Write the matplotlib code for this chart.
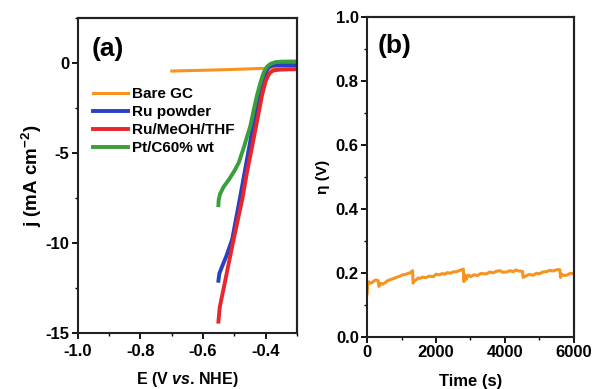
import numpy as np
import matplotlib
matplotlib.use("Agg")
import matplotlib.pyplot as plt
from matplotlib.ticker import MultipleLocator

plt.rcParams["font.family"] = ["Liberation Sans", "DejaVu Sans"]
plt.rcParams["font.weight"] = "bold"
plt.rcParams["mathtext.fontset"] = "custom"
plt.rcParams["mathtext.rm"] = "Liberation Sans:bold"
plt.rcParams["mathtext.it"] = "Liberation Sans:italic:bold"

# (a) polarization curves
bare_E = [-0.70, -0.60, -0.50, -0.40, -0.30]
bare_j = [-0.45, -0.41, -0.36, -0.30, -0.25]

ru_E = [-0.551, -0.548, -0.539, -0.525, -0.507, -0.48, -0.454, -0.435, -0.417, -0.405, -0.397, -0.39, -0.38, -0.36, -0.33, -0.30]
ru_j = [-12.1, -11.7, -11.3, -10.7, -9.8, -7.3, -4.8, -3.0, -1.6, -0.8, -0.45, -0.24, -0.15, -0.12, -0.12, -0.12]

ruth_E = [-0.551, -0.547, -0.540, -0.533, -0.52, -0.507, -0.49, -0.475, -0.46, -0.443, -0.425, -0.412, -0.40, -0.392, -0.385, -0.375, -0.36, -0.33, -0.30]
ruth_j = [-14.37, -13.6, -13.0, -12.42, -11.3, -10.19, -8.8, -7.59, -6.1, -4.61, -3.0, -1.82, -1.0, -0.7, -0.52, -0.42, -0.38, -0.36, -0.35]

pt_E = [-0.551, -0.550, -0.546, -0.535, -0.517, -0.50, -0.486, -0.47, -0.449, -0.438, -0.428, -0.416, -0.406, -0.395, -0.385, -0.37, -0.35, -0.30]
pt_j = [-7.9, -7.6, -7.3, -6.9, -6.47, -6.0, -5.54, -4.7, -3.5, -2.6, -1.82, -1.05, -0.52, -0.2, -0.06, 0.04, 0.07, 0.08]

# (b) chronopotentiometry
t_s = [0, 20, 50, 100, 150, 200, 250, 320, 345, 400, 460, 530, 600, 700, 780, 850, 957, 1030, 1100, 1180, 1246,
       1320, 1335, 1380, 1420, 1480, 1536, 1620, 1700, 1800, 1923, 2000, 2100, 2180, 2250, 2330, 2406, 2500,
       2600, 2700, 2793, 2810, 2830, 2850, 2880, 2920, 2950, 3000, 3100, 3200, 3300, 3469, 3560, 3650, 3750,
       3855, 3950, 4050, 4150, 4242, 4320, 4400, 4510, 4530, 4600, 4700, 4826, 4920, 5000, 5100, 5209, 5300,
       5400, 5500, 5594, 5615, 5640, 5720, 5800, 5900, 6000]
eta = [0.135, 0.165, 0.172, 0.168, 0.170, 0.175, 0.178, 0.176, 0.158, 0.167, 0.165, 0.170, 0.176, 0.180, 0.183,
       0.186, 0.190, 0.194, 0.195, 0.198, 0.200, 0.207, 0.168, 0.176, 0.178, 0.184, 0.183, 0.187, 0.185, 0.190,
       0.188, 0.196, 0.194, 0.198, 0.196, 0.201, 0.199, 0.203, 0.204, 0.208, 0.212, 0.173, 0.195, 0.184, 0.180,
       0.192, 0.193, 0.188, 0.194, 0.192, 0.198, 0.197, 0.203, 0.200, 0.205, 0.207, 0.202, 0.203, 0.207, 0.204,
       0.209, 0.206, 0.205, 0.186, 0.190, 0.195, 0.193, 0.199, 0.197, 0.203, 0.204, 0.208, 0.206, 0.210, 0.210,
       0.186, 0.196, 0.192, 0.193, 0.199, 0.197]

orange = "#f7931e"
blue = "#2b3fc4"
red = "#e8262b"
green = "#3a9e3a"
frame = "#222222"

fig = plt.figure(figsize=(5.94, 3.89), dpi=100)
ax1 = fig.add_axes([0.131, 0.144, 0.369, 0.810])
ax2 = fig.add_axes([0.618, 0.134, 0.348, 0.822])

ax1.plot(bare_E, bare_j, color=orange, lw=2.2, label="Bare GC")
ax1.plot(ru_E, ru_j, color=blue, lw=2.8, label="Ru powder")
ax1.plot(ruth_E, ruth_j, color=red, lw=2.8, label="Ru/MeOH/THF")
ax1.plot(pt_E, pt_j, color=green, lw=2.8, label="Pt/C60% wt")
ax1.set_xlim(-1.0, -0.3)
ax1.set_ylim(-15, 2.5)
ax1.xaxis.set_minor_locator(MultipleLocator(0.1))
ax1.yaxis.set_minor_locator(MultipleLocator(2.5))
ax1.set_xticks([-1.0, -0.8, -0.6, -0.4])
ax1.set_xticklabels(["-1.0", "-0.8", "-0.6", "-0.4"])
ax1.set_yticks([0, -5, -10, -15])
ax1.set_yticklabels(["0", "-5", "-10", "-15"])
ax1.set_xlabel(r"E (V $\mathit{vs}$. NHE)", fontsize=11.5, fontweight="bold", labelpad=8)
ax1.set_ylabel(r"j (mA cm$^{-2}$)", fontsize=13.5, fontweight="bold", labelpad=1)
ax1.text(0.065, 0.90, "(a)", transform=ax1.transAxes, fontsize=19, fontweight="bold", va="center")
leg = ax1.legend(loc="upper left", bbox_to_anchor=(0.04, 0.80), frameon=False, fontsize=11,
                 handlelength=2.3, handletextpad=0.3, labelspacing=0.26, borderaxespad=0)

ax2.plot(t_s, eta, color=orange, lw=2.2)
ax2.set_xlim(0, 6000)
ax2.set_ylim(0, 1.0)
ax2.xaxis.set_major_locator(MultipleLocator(2000))
ax2.xaxis.set_minor_locator(MultipleLocator(1000))
ax2.yaxis.set_major_locator(MultipleLocator(0.2))
ax2.yaxis.set_minor_locator(MultipleLocator(0.1))
ax2.set_xlabel("Time (s)", fontsize=12, fontweight="bold", labelpad=10)
ax2.set_ylabel("η (V)", fontsize=11, fontweight="bold", labelpad=4)
ax2.text(0.05, 0.91, "(b)", transform=ax2.transAxes, fontsize=19, fontweight="bold", va="center")

for ax in (ax1, ax2):
    for s in ax.spines.values():
        s.set_visible(True)
        s.set_linewidth(1.5)
        s.set_color(frame)
    # top and right edges of the box, drawn at the axis limits
    ax.axhline(ax.get_ylim()[1], color=frame, lw=1.5, clip_on=False, zorder=3)
    ax.axvline(ax.get_xlim()[1], color=frame, lw=1.5, clip_on=False, zorder=3)
    ax.tick_params(which="major", direction="out", length=4, width=1.3, labelsize=12, pad=2)
    ax.tick_params(which="minor", direction="out", length=2.5, width=1.0)
    for lbl in ax.get_xticklabels() + ax.get_yticklabels():
        lbl.set_fontweight("bold")
ax1.tick_params(axis="x", which="major", pad=4)

fig.savefig("out.png", dpi=100)
